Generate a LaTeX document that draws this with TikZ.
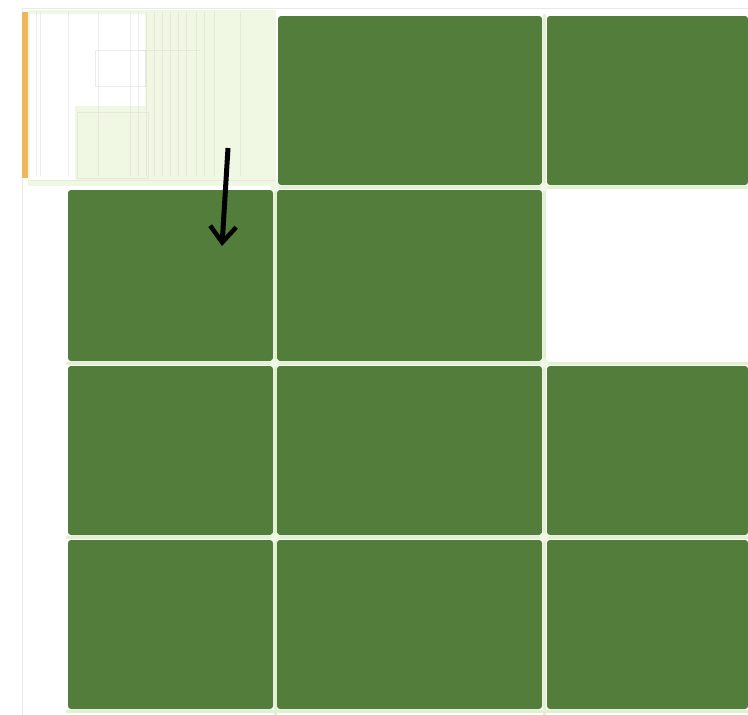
\documentclass[tikz,border=0pt]{standalone}
\usetikzlibrary{arrows.meta}
\definecolor{tilegreen}{HTML}{537D3B}
\definecolor{palegreen}{HTML}{F0F8E4}
\definecolor{sepline}{HTML}{E2F2D0}
\definecolor{faint}{HTML}{D9DCD6}
\definecolor{barorange}{HTML}{EDB75E}
\tikzset{
  tile/.style={fill=tilegreen, draw=none, rounded corners=3pt},
  sep/.style={draw=sepline, line width=3pt},
  joint/.style={circle, fill=sepline!60!white, inner sep=0pt, minimum size=9pt},
  faintline/.style={draw=faint, line width=0.4pt},
}
\begin{document}
\begin{tikzpicture}[x=1pt,y=-1pt]
\useasboundingbox (0,0) rectangle (748,715);
\fill[white] (0,0) rectangle (748,715);
% page frame lines
\draw[draw=faint!60, line width=0.8pt] (22,8) -- (748,8);
\draw[draw=faint!60, line width=0.8pt] (22,8) -- (22,715);
% top-left pale region
\fill[palegreen] (28,10) rectangle (276,186);
\fill[white] (30,14) rectangle (145,106);
\fill[white] (30,106) rectangle (75,180);
\foreach \x in {36,40,68,98,130,138,146,154,162,170,178,186,196,204,214,240} {
  \draw[faintline, opacity=0.5] (\x,12) -- (\x,176);
}
\draw[faintline, opacity=0.5] (95,50) rectangle (145,86);
\draw[faintline, opacity=0.5] (77,112) rectangle (148,178);
\draw[faintline, opacity=0.5] (30,180) -- (275,180);
\draw[faintline, opacity=0.5] (140,50) -- (200,50);
% orange bar
\fill[barorange] (22,12) rectangle (28,178);
% tiles
\fill[tile] (278,16) rectangle (542,185);
\fill[tile] (547,16) rectangle (748,185);
\fill[tile] (68,190) rectangle (273,361);
\fill[tile] (277,190) rectangle (542,361);
\fill[tile] (68,366) rectangle (273,535);
\fill[tile] (277,366) rectangle (542,535);
\fill[tile] (547,366) rectangle (748,535);
\fill[tile] (68,540) rectangle (273,709);
\fill[tile] (277,540) rectangle (542,709);
\fill[tile] (547,540) rectangle (748,709);
% separators
\draw[sep] (275,184) -- (275,715);
\draw[sep] (544,14) -- (544,715);
\draw[sep] (275,187) -- (748,187);
\draw[sep] (66,363) -- (748,363);
\draw[sep] (66,537) -- (748,537);
\draw[sep] (66,711) -- (748,711);
\foreach \x in {275,544} { \foreach \y in {187,363,537} { \node[joint] at (\x,\y) {}; } }
% arrow
\coordinate (aS) at (228,148);
\coordinate (aE) at (222,246);
\draw[line width=5pt, -{Straight Barb[length=16pt, width=26pt, line width=4.5pt]}] (aS) -- (aE);
\end{tikzpicture}
\end{document}
